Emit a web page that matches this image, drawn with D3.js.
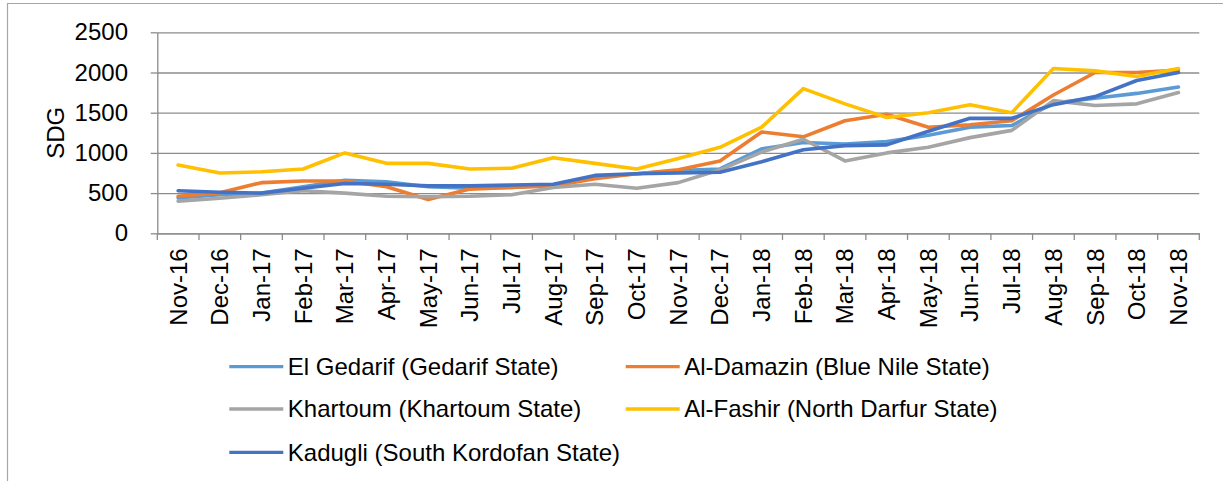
<!DOCTYPE html>
<html>
<head>
<meta charset="utf-8">
<script src="https://cdn.jsdelivr.net/npm/d3@7"></script>
<style>
  body { margin: 0; background: #fff; }
  svg { display: block; font-family: "Liberation Sans", Arial, sans-serif; }
  .axis text { font-family: "Liberation Sans", Arial, sans-serif; font-size: 24px; fill: #000; }
  .axis path, .axis line { stroke: #8c8c8c; }
</style>
</head>
<body>
<script>
// Monthly prices, Nov-16 .. Nov-18
var months = ["Nov-16", "Dec-16", "Jan-17", "Feb-17", "Mar-17", "Apr-17", "May-17", "Jun-17",
              "Jul-17", "Aug-17", "Sep-17", "Oct-17", "Nov-17", "Dec-17", "Jan-18", "Feb-18",
              "Mar-18", "Apr-18", "May-18", "Jun-18", "Jul-18", "Aug-18", "Sep-18", "Oct-18", "Nov-18"];

var elGedarif = [440, 480, 500, 580, 660, 640, 580, 560, 570, 600, 700, 740, 780, 800,
                 1050, 1130, 1110, 1140, 1220, 1320, 1340, 1620, 1680, 1740, 1820];
var alDamazin = [460, 505, 630, 650, 650, 580, 420, 550, 570, 590, 680, 740, 790, 900,
                 1260, 1200, 1400, 1480, 1320, 1350, 1400, 1720, 2000, 2000, 2030];
var khartoum  = [400, 435, 480, 530, 500, 460, 455, 460, 480, 570, 610, 560, 630, 790,
                 1010, 1170, 900, 1000, 1070, 1190, 1280, 1650, 1590, 1610, 1750];
var alFashir  = [850, 750, 765, 800, 1000, 870, 870, 800, 810, 940, 870, 800, 930, 1070,
                 1320, 1800, 1610, 1440, 1500, 1600, 1500, 2050, 2020, 1950, 2050];
var kadugli   = [530, 510, 500, 560, 620, 610, 590, 590, 600, 610, 720, 740, 750, 760,
                 890, 1040, 1090, 1100, 1270, 1430, 1430, 1600, 1700, 1900, 2000];

var seriesNames = ["El Gedarif (Gedarif State)", "Al-Damazin (Blue Nile State)",
                   "Khartoum (Khartoum State)", "Al-Fashir (North Darfur State)",
                   "Kadugli (South Kordofan State)"];
var seriesColors = ["#5b9bd5", "#ed7d31", "#a5a5a5", "#ffc000", "#4472c4"];
var yTicks = [0, 500, 1000, 1500, 2000, 2500];

var series = [elGedarif, alDamazin, khartoum, alFashir, kadugli].map(function(v, i) {
  return { name: seriesNames[i], color: seriesColors[i], values: v };
});

// Settings
var w = 1223, h = 481;
var plotL = 157.3, plotR = 1199.3, plotT = 32.3, plotB = 233.3;

var svg = d3.select("body").append("svg")
  .attr("width", w)
  .attr("height", h);

// chart area border (only left and top visible)
svg.append("path")
  .attr("d", "M7.5," + h + "V3.5H" + w)
  .attr("fill", "none")
  .attr("stroke", "#a6a6a6")
  .attr("stroke-width", 1.2);

var x = d3.scaleBand().domain(months).range([plotL, plotR]).padding(0);
var y = d3.scaleLinear().domain([0, 2500]).range([plotB, plotT]);

// gridlines
svg.append("g")
  .attr("transform", "translate(" + plotL + ",0)")
  .call(d3.axisLeft(y).tickValues(yTicks).tickSize(-(plotR - plotL)).tickFormat(""))
  .call(function(g) { g.select(".domain").remove(); })
  .selectAll("line")
  .attr("stroke", "#8c8c8c")
  .attr("stroke-width", 1.3);

// y axis
svg.append("g")
  .attr("class", "axis")
  .attr("transform", "translate(" + plotL + ",0)")
  .call(d3.axisLeft(y).tickValues(yTicks).tickFormat(d3.format("d"))
          .tickSize(6.6).tickSizeOuter(0).tickPadding(22.7))
  .call(function(g) { g.selectAll("line, path").attr("stroke-width", 1.3); });

// x axis: labels at band centres, ticks at band edges
var xAxis = svg.append("g")
  .attr("class", "axis")
  .attr("transform", "translate(0," + plotB + ")")
  .call(d3.axisBottom(x).tickSize(0).tickSizeOuter(0));
xAxis.select(".domain").attr("stroke-width", 1.3);
xAxis.selectAll(".tick text")
  .attr("text-anchor", "end")
  .attr("transform", "translate(0,15) rotate(-90)")
  .attr("x", 0)
  .attr("y", 0)
  .attr("dy", "0.35em");

xAxis.selectAll(".edge")
  .data(d3.range(months.length + 1))
  .enter()
  .append("line")
  .attr("class", "edge")
  .attr("x1", function(i) { return plotL + i * x.step(); })
  .attr("x2", function(i) { return plotL + i * x.step(); })
  .attr("y1", 0)
  .attr("y2", 6.6)
  .attr("stroke", "#8c8c8c")
  .attr("stroke-width", 1.3);

// y title
svg.append("text")
  .attr("transform", "translate(64," + ((plotT + plotB) / 2) + ") rotate(-90)")
  .attr("text-anchor", "middle")
  .style("font-size", "24px")
  .text("SDG");

// lines
var line = d3.line()
  .x(function(d, i) { return x(months[i]) + x.bandwidth() / 2; })
  .y(function(d) { return y(d); });

svg.selectAll(".series")
  .data(series)
  .enter()
  .append("path")
  .attr("class", "series")
  .attr("d", function(d) { return line(d.values); })
  .attr("fill", "none")
  .attr("stroke", function(d) { return d.color; })
  .attr("stroke-width", 3.6)
  .attr("stroke-linejoin", "round")
  .attr("stroke-linecap", "round");

// legend
var legendCols = [229.3, 625.7];
var legendRows = [366.7, 409, 452.3];
var legend = svg.selectAll(".legend")
  .data(series)
  .enter()
  .append("g")
  .attr("class", "legend")
  .attr("transform", function(d, i) {
    return "translate(" + legendCols[i % 2] + "," + legendRows[Math.floor(i / 2)] + ")";
  });

legend.append("line")
  .attr("x1", 0)
  .attr("x2", 54)
  .attr("stroke", function(d) { return d.color; })
  .attr("stroke-width", 3.3);

legend.append("text")
  .attr("x", 58.5)
  .attr("dy", "0.35em")
  .style("font-size", "24px")
  .text(function(d) { return d.name; });
</script>
</body>
</html>
